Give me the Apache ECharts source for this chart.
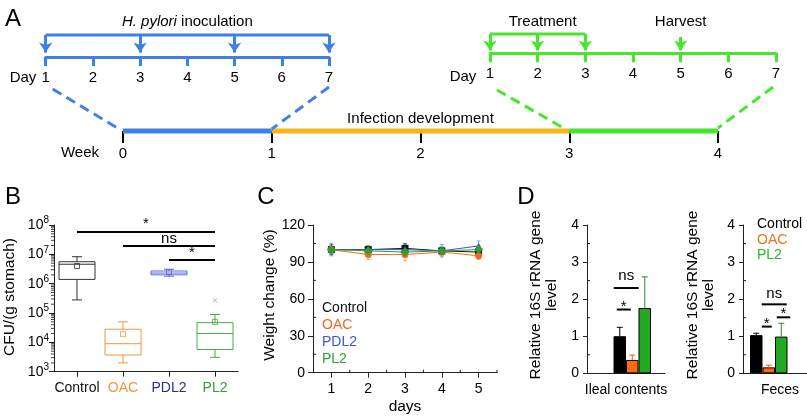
<!DOCTYPE html>
<html><head><meta charset="utf-8">
<script src="https://cdn.jsdelivr.net/npm/echarts@6/dist/echarts.min.js"></script>
<style>html,body{margin:0;padding:0;background:#fff}#c{width:807px;height:417px}</style>
</head><body><div id="c"></div>
<script>
// ---------------- data ----------------
// Panel A (timeline)
const dayTicks = [1, 2, 3, 4, 5, 6, 7];
const inoculationDays = [1, 3, 5, 7];
const treatmentDays = [1, 2, 3];
const harvestDays = [5];
const weekTicks = [0, 1, 2, 3, 4];
const phaseStart = [0, 1, 3];
const phaseEnd = [1, 3, 4];

// Panel B (box plot, CFU per g stomach)
const groupsB = ['Control', 'OAC', 'PDL2', 'PL2'];
const cfuMin = [2.8e5, 2.0e3, 1.8e6, 3.1e3];
const cfuQ1 = [1.4e6, 3.7e3, 2.0e6, 5.7e3];
const cfuMedian = [4.6e6, 9.0e3, 2.3e6, 2.0e4];
const cfuQ3 = [5.6e6, 2.8e4, 2.7e6, 4.7e4];
const cfuMax = [8.3e6, 5.0e4, 3.1e6, 8.9e4];
const cfuMean = [4.0e6, 1.9e4, 2.5e6, 5.0e4];
const cfuOutlierGroup = [3];
const cfuOutlierValue = [2.7e5];
const sigBFrom = [0, 1, 2];
const sigBTo = [3, 3, 3];
const sigBLevel = [5.9e7, 1.9e7, 6.4e6];
const sigBText = ['*', 'ns', '*'];
const logDecades = [3, 4, 5, 6, 7];
const logMultipliers = [2, 3, 4, 5, 6, 7, 8, 9];

// Panel C (weight change)
const daysC = [1, 2, 3, 4, 5];
const groupsC = ['Control', 'OAC', 'PDL2', 'PL2'];
const weightControl = [100, 100, 101, 99, 98];
const weightOAC = [100, 96, 96, 98, 95];
const weightPDL2 = [100, 100, 100, 99, 103];
const weightPL2 = [100, 99, 98, 99, 100];
const errControl = [4, 3, 4, 3, 3];
const errOAC = [3, 4, 5, 3, 3];
const errPDL2 = [5, 3, 4, 5, 4];
const errPL2 = [3, 3, 3, 3, 3];
const minorTicksCx = [1.5, 2.5, 3.5, 4.5, 5.5];
const minorTicksCy = [15, 45, 75, 105];

// Panel D (16S rRNA)
const groupsD = ['Control', 'OAC', 'PL2'];
const ilealMean = [1.00, 0.36, 1.76];
const ilealErr = [0.24, 0.13, 0.84];
const fecesMean = [1.03, 0.16, 0.99];
const fecesErr = [0.05, 0.06, 0.36];
const minorTicksD = [0.5, 1.5, 2.5, 3.5];

// ---------------- styles ----------------
const FONT = '"Liberation Sans", Arial, Helvetica, sans-serif';
const BLUE = '#3f80e4', GREEN = '#46e62c', ORANGE_T = '#f8b51a';
const catColorsB = ['#111', '#f0963c', '#2c2e8c', '#3c9a3c'];
const boxColorsB = ['#333', '#f0963c', '#5b6ad6', '#4aa84a'];
const colorsC = ['#111', '#f06a1e', '#3b55d9', '#2f9e2f'];
const symbolsC = ['rect', 'circle', 'triangle', 'diamond'];
const colorsD = ['#000', '#ff6a10', '#22aa22'];
const BW = 12.5;

const chart = echarts.init(document.getElementById('c'), null, {renderer: 'canvas'});

const noSplit = {show: false};
function hiddenY(g) { return {gridIndex: g, type: 'value', min: 0, max: 1, show: false}; }

const grids = [
  {left: 45.7, top: 35, width: 283.3, height: 22},
  {left: 490, top: 34, width: 286, height: 19.3},
  {left: 123, top: 100, width: 595, height: 31},
  {left: 54, top: 225, width: 184, height: 146.7},
  {left: 313, top: 225, width: 184, height: 147.7},
  {left: 587, top: 225, width: 78, height: 148.3},
  {left: 743, top: 225, width: 64, height: 148.3}
].map(g => Object.assign(g, {outerBoundsMode: 'none', containLabel: false}));

const dayAxis = (g, col) => ({
  gridIndex: g, type: 'value', min: 1, max: 7, interval: 1,
  axisLine: {show: true, lineStyle: {color: col, width: 3}},
  axisTick: {show: true, length: 9, lineStyle: {color: col, width: 3}},
  axisLabel: {color: '#000', fontSize: 15, fontFamily: FONT, margin: 13},
  splitLine: noSplit
});

const xAxes = [
  dayAxis(0, BLUE),
  dayAxis(1, GREEN),
  {gridIndex: 2, type: 'value', min: 0, max: 4, interval: 1,
   axisLine: {show: false},
   axisTick: {show: true, length: 12, lineStyle: {color: '#000', width: 2}},
   axisLabel: {color: '#000', fontSize: 15, fontFamily: FONT, margin: 15},
   splitLine: noSplit},
  {gridIndex: 3, type: 'category', data: groupsB,
   axisLine: {show: true, lineStyle: {color: '#222', width: 1}},
   axisTick: {show: true, alignWithLabel: true, interval: 0, length: 5, lineStyle: {color: '#222'}},
   axisLabel: {fontSize: 14, fontFamily: FONT, margin: 9, interval: 0,
     color: (v) => catColorsB[groupsB.indexOf(v)]}},
  {gridIndex: 4, type: 'value', min: 0.5, max: 5.5,
   axisLine: {show: true, lineStyle: {color: '#222'}},
   axisTick: {show: true, length: 5, customValues: daysC, lineStyle: {color: '#222'}},
   axisLabel: {fontSize: 14, fontFamily: FONT, color: '#000', margin: 9, customValues: daysC},
   splitLine: noSplit},
  {gridIndex: 5, type: 'category', data: ['Ileal contents'],
   axisLine: {show: true, lineStyle: {color: '#222'}}, axisTick: {show: false},
   axisLabel: {fontSize: 14, fontFamily: FONT, color: '#000', margin: 10}},
  {gridIndex: 6, type: 'category', data: ['Feces'],
   axisLine: {show: true, lineStyle: {color: '#222'}}, axisTick: {show: false},
   axisLabel: {fontSize: 14, fontFamily: FONT, color: '#000', margin: 10, padding: [0, 0, 0, 10]}}
];

const dAxis = (g) => ({gridIndex: g, type: 'value', min: 0, max: 4, interval: 1,
  axisLine: {show: true, lineStyle: {color: '#222'}},
  axisTick: {show: true, length: 4, lineStyle: {color: '#222'}},
  axisLabel: {fontSize: 14, fontFamily: FONT, color: '#000', margin: 8},
  splitLine: noSplit});

const yAxes = [
  hiddenY(0), hiddenY(1), hiddenY(2),
  {gridIndex: 3, type: 'log', logBase: 10, min: 1e3, max: 1e8,
   axisLine: {show: true, lineStyle: {color: '#222'}},
   axisTick: {show: true, length: 5, lineStyle: {color: '#222'}},
   axisLabel: {margin: 5, color: '#000', fontFamily: FONT,
     formatter: v => '10{s|' + Math.round(Math.log10(v)) + '}',
     rich: {s: {fontSize: 10, fontFamily: FONT, color: '#000', padding: [0, 0, 9, 0]}},
     fontSize: 14},
   splitLine: noSplit},
  {gridIndex: 4, type: 'value', min: 0, max: 120, interval: 30,
   axisLine: {show: true, lineStyle: {color: '#222'}},
   axisTick: {show: true, length: 5, lineStyle: {color: '#222'}},
   axisLabel: {fontSize: 14, fontFamily: FONT, color: '#000', margin: 8},
   splitLine: noSplit},
  dAxis(5), dAxis(6)
];
// axis indices: x: 0 A-blue, 1 A-green, 2 weeks, 3 B, 4 C, 5 D1, 6 D2
//               y: 0,1,2 A, 3 B, 4 C, 5 D1, 6 D2

// ---------- series ----------
const series = [];
// minor tick helper (ticks derived from axis scale via api.coord)
function minorTicks(xi, yi, values, dim, dir, len, col) {
  series.push({type: 'custom', xAxisIndex: xi, yAxisIndex: yi, silent: true, z: 10,
    data: values.map(v => [v]), encode: dim === 'y' ? {y: 0} : {x: 0},
    renderItem: (p, api) => {
      const cs = p.coordSys;
      const v = api.value(0);
      if (dim === 'y') {
        const y = api.coord([0, v])[1];
        const x0 = cs.x;
        return {type: 'line', shape: {x1: x0, y1: y, x2: x0 + dir * len, y2: y}, style: {stroke: col, lineWidth: 1}};
      } else {
        const x = api.coord([v, 0])[0];
        const y0 = cs.y + cs.height;
        return {type: 'line', shape: {x1: x, y1: y0, x2: x, y2: y0 + dir * len}, style: {stroke: col, lineWidth: 1}};
      }
    }});
}

// Panel A
function bracketSeries(xi, days, col) {
  series.push({type: 'line', xAxisIndex: xi, yAxisIndex: xi, clip: false, silent: true,
    data: [[days[0], 1], [days[days.length - 1], 1]], symbol: 'none',
    lineStyle: {color: col, width: 3}});
}
function arrowSeries(xi, days, y0, y1, col) {
  series.push({type: 'lines', coordinateSystem: 'cartesian2d', xAxisIndex: xi, yAxisIndex: xi, clip: false, silent: true,
    data: days.map(d => ({coords: [[d, y0], [d, y1]]})),
    symbol: ['none', 'arrow'], symbolSize: 10,
    lineStyle: {color: col, width: 3, opacity: 1, curveness: 0}});
}
bracketSeries(0, inoculationDays, BLUE);
arrowSeries(0, inoculationDays, 1, 0.2, BLUE);
bracketSeries(1, treatmentDays, GREEN);
arrowSeries(1, treatmentDays, 1, 0.15, GREEN);
arrowSeries(1, harvestDays, 0.84, 0.15, GREEN);
const phaseColors = [BLUE, ORANGE_T, GREEN];
phaseStart.forEach((s, i) => {
  series.push({type: 'line', xAxisIndex: 2, yAxisIndex: 2, clip: false, silent: true,
    data: [[s, 0], [phaseEnd[i], 0]], symbol: 'none',
    lineStyle: {color: phaseColors[i], width: 5}});
});

// Panel B boxes
series.push({
  type: 'custom', xAxisIndex: 3, yAxisIndex: 3, silent: true,
  data: groupsB.map((g, i) => [i, cfuMin[i], cfuQ1[i], cfuMedian[i], cfuQ3[i], cfuMax[i], cfuMean[i]]),
  encode: {x: 0, y: [1, 2, 3, 4, 5, 6]},
  renderItem: (p, api) => {
    const i = api.value(0);
    const c = boxColorsB[i];
    const pt = k => api.coord([i, api.value(k)]);
    const mn = pt(1), q1 = pt(2), md = pt(3), q3 = pt(4), mx = pt(5), me = pt(6);
    const x = mn[0], hw = 18, cap = 5;
    const st = {stroke: c, lineWidth: 1, fill: null};
    const L = (x1, y1, x2, y2) => ({type: 'line', shape: {x1, y1, x2, y2}, style: st});
    return {type: 'group', children: [
      {type: 'rect', shape: {x: x - hw, y: q3[1], width: 2 * hw, height: q1[1] - q3[1]}, style: {stroke: c, lineWidth: 1, fill: 'rgba(0,0,0,0)'}},
      L(x - hw, md[1], x + hw, md[1]),
      L(x, q3[1], x, mx[1]), L(x - cap, mx[1], x + cap, mx[1]),
      L(x, q1[1], x, mn[1]), L(x - cap, mn[1], x + cap, mn[1]),
      {type: 'rect', shape: {x: x - 2.5, y: me[1] - 2.5, width: 5, height: 5}, style: {stroke: c, lineWidth: 0.8, fill: 'rgba(0,0,0,0)'}}
    ]};
  },
  markLine: {
    silent: true, symbol: 'none', animation: false,
    lineStyle: {color: '#000', width: 2, type: 'solid'},
    label: {show: true, position: 'middle', color: '#000', fontSize: 15, fontFamily: FONT, distance: 0},
    data: sigBFrom.map((f, k) => [
      {coord: [f, sigBLevel[k]], label: {formatter: sigBText[k]}},
      {coord: [sigBTo[k], sigBLevel[k]]}
    ])
  }
});
// Panel B outliers
series.push({
  type: 'custom', xAxisIndex: 3, yAxisIndex: 3, silent: true,
  data: cfuOutlierGroup.map((g, i) => [g, cfuOutlierValue[i]]),
  encode: {x: 0, y: 1},
  renderItem: (p, api) => {
    const q = api.coord([api.value(0), api.value(1)]);
    const s = {stroke: '#aaa', lineWidth: 1};
    return {type: 'group', children: [
      {type: 'line', shape: {x1: q[0] - 2, y1: q[1] - 2, x2: q[0] + 2, y2: q[1] + 2}, style: s},
      {type: 'line', shape: {x1: q[0] - 2, y1: q[1] + 2, x2: q[0] + 2, y2: q[1] - 2}, style: s}
    ]};
  }
});
const minorLogValues = [];
logDecades.forEach(n => logMultipliers.forEach(k => minorLogValues.push(k * Math.pow(10, n))));
minorTicks(3, 3, minorLogValues, 'y', -1, 3, '#444');

// Panel C
const weightsC = [weightControl, weightOAC, weightPDL2, weightPL2];
const errsC = [errControl, errOAC, errPDL2, errPL2];
const errData = [];
weightsC.forEach((arr, g) => daysC.forEach((d, i) => errData.push([d, arr[i], errsC[g][i], g])));
series.push({
  type: 'custom', xAxisIndex: 4, yAxisIndex: 4, silent: true, z: 1,
  data: errData, encode: {x: 0, y: 1},
  renderItem: (p, api) => {
    const x = api.value(0), m = api.value(1), e = api.value(2), g = api.value(3);
    const t = api.coord([x, m + e]), b = api.coord([x, m - e]);
    const s = {stroke: colorsC[g], lineWidth: 1, opacity: 0.55};
    return {type: 'group', children: [
      {type: 'line', shape: {x1: t[0], y1: t[1], x2: b[0], y2: b[1]}, style: s},
      {type: 'line', shape: {x1: t[0] - 2, y1: t[1], x2: t[0] + 2, y2: t[1]}, style: s},
      {type: 'line', shape: {x1: b[0] - 2, y1: b[1], x2: b[0] + 2, y2: b[1]}, style: s}
    ]};
  }
});
weightsC.forEach((arr, g) => {
  series.push({type: 'line', name: groupsC[g], xAxisIndex: 4, yAxisIndex: 4, z: 3 + g,
    data: daysC.map((d, i) => [d, arr[i]]),
    symbol: symbolsC[g], symbolSize: g === 3 ? 9 : 7, showSymbol: true,
    itemStyle: {color: colorsC[g]}, lineStyle: {color: colorsC[g], width: 1}});
});
minorTicks(4, 4, minorTicksCy, 'y', 1, 3, '#222');
minorTicks(4, 4, minorTicksCx, 'x', -1, 3, '#222');

// Panel D
function dPanel(xi, yi, means, errs, spacerFirst) {
  const spacer = {type: 'bar', xAxisIndex: xi, yAxisIndex: yi, data: ['-'], barWidth: BW, barGap: '0%', silent: true};
  if (spacerFirst) series.push(spacer);
  means.forEach((m, i) => {
    series.push({type: 'bar', name: groupsD[i], xAxisIndex: xi, yAxisIndex: yi, data: [m],
      barWidth: BW, barGap: '0%', silent: true,
      itemStyle: {color: colorsD[i], borderColor: '#000', borderWidth: 1}});
  });
  if (!spacerFirst) series.push(spacer);
  const off = spacerFirst ? 1 : 0;
  series.push({type: 'custom', xAxisIndex: xi, yAxisIndex: yi, silent: true, z: 5,
    data: means.map((m, i) => [0, m, errs[i], i]), encode: {x: 0, y: 1},
    renderItem: (p, api) => {
      const m = api.value(1), e = api.value(2), i = api.value(3);
      const b = api.coord([0, m]), t = api.coord([0, m + e]);
      const x = b[0] + (i + off - 1.5) * BW;
      const s = {stroke: i === 2 ? '#2a8a2a' : (i === 1 ? '#e06010' : '#000'), lineWidth: 1};
      return {type: 'group', children: [
        {type: 'line', shape: {x1: x, y1: b[1], x2: x, y2: t[1]}, style: s},
        {type: 'line', shape: {x1: x - 3, y1: t[1], x2: x + 3, y2: t[1]}, style: s}
      ]};
    }});
  minorTicks(xi, yi, minorTicksD, 'y', 1, 3, '#222');
}
dPanel(5, 5, ilealMean, ilealErr, true);
dPanel(6, 6, fecesMean, fecesErr, false);

chart.setOption({
  animation: false,
  backgroundColor: '#fff',
  textStyle: {fontFamily: FONT},
  grid: grids, xAxis: xAxes, yAxis: yAxes, series: series
});

// ---------- annotations (anchored to axes) ----------
function T(x, y, text, o) {
  o = o || {};
  return {type: 'text', x: x, y: y, rotation: o.rot || 0, silent: true, z: 100,
    style: {text: text, fill: o.color || '#000', fontSize: o.size || 14, fontFamily: FONT,
      fontStyle: o.italic ? 'italic' : 'normal',
      align: o.align || 'center', verticalAlign: o.va || 'middle',
      textAlign: o.align || 'center', textVerticalAlign: o.va || 'middle',
      lineHeight: o.lh, rich: o.rich}};
}
function Ln(x1, y1, x2, y2, col, w, dash) {
  return {type: 'line', silent: true, z: 100, shape: {x1, y1, x2, y2},
    style: {stroke: col, lineWidth: w, lineDash: dash || null}};
}
const px = (xi, yi, v) => chart.convertToPixel({xAxisIndex: xi, yAxisIndex: yi}, v);

const g = [];
// panel letters
g.push(T(13, 19, 'A', {size: 24}));
g.push(T(13, 197, 'B', {size: 24}));
g.push(T(266, 197, 'C', {size: 24}));
g.push(T(526, 197, 'D', {size: 24}));

// Panel A texts
const b1 = px(0, 0, [1, 0]), b7 = px(0, 0, [7, 0]);
const g1 = px(1, 1, [1, 0]), g7 = px(1, 1, [7, 0]);
const w0 = px(2, 2, [0, 0]), w1 = px(2, 2, [1, 0]), w3 = px(2, 2, [3, 0]), w4 = px(2, 2, [4, 0]);
const w2 = px(2, 2, [2, 0]);
g.push(T((b1[0] + b7[0]) / 2, 22, '{i|H. pylori} inoculation', {size: 15,
  rich: {i: {fontStyle: 'italic', fontSize: 15, fontFamily: FONT, fill: '#000', color: '#000'}}}));
g.push(T(23, 78, 'Day', {size: 15}));
g.push(T(463, 77, 'Day', {size: 15}));
g.push(T(px(1, 1, [2, 0])[0] + 5, 22, 'Treatment', {size: 15}));
g.push(T(px(1, 1, [5, 0])[0], 22, 'Harvest', {size: 15}));
g.push(T(80, 153, 'Week', {size: 15}));
g.push(T(w2[0], 119, 'Infection development', {size: 15}));
// dashed connectors
const dash = [10, 6];
g.push(Ln(b1[0] + 7, 89, w0[0] - 4, w0[1] - 2, BLUE, 3, dash));
g.push(Ln(b7[0], 87, w1[0], w1[1] - 2, BLUE, 3, dash));
g.push(Ln(g1[0] + 7, 90, w3[0] - 4, w3[1] - 2, GREEN, 3, dash));
g.push(Ln(g7[0] - 3, 87, w4[0], w4[1] - 3, GREEN, 3, dash));

// Panel B/C titles
g.push(T(10, 297, 'CFU/(g stomach)', {size: 15.5, rot: Math.PI / 2}));
g.push(T(270, 295, 'Weight change (%)', {size: 15.5, rot: Math.PI / 2}));
g.push(T(px(4, 4, [3, 0])[0], 407, 'days', {size: 15.5}));
// Panel C legend
groupsC.forEach((name, i) => g.push(T(322, 308 + i * 17, name, {align: 'left', color: colorsC[i], size: 14})));

// Panel D titles
g.push(T(544, 295, 'Relative 16S rRNA gene\nlevel', {size: 15.5, rot: Math.PI / 2, lh: 16}));
g.push(T(701, 295, 'Relative 16S rRNA gene\nlevel', {size: 15.5, rot: Math.PI / 2, lh: 16}));
// Panel D2 legend
const legD = ['#000', '#f07020', '#2db32d'];
groupsD.forEach((name, i) => g.push(T(757, 224 + i * 15.7, name, {align: 'left', color: legD[i], size: 14})));

// Panel D significance
function barC(xi, yi, slot, v) { const p = px(xi, yi, [0, v]); return [p[0] + (slot - 1.5) * BW, p[1]]; }
function sig(xi, yi, s1, d1, s2, d2, v, txt, ty) {
  const a = barC(xi, yi, s1, v), b = barC(xi, yi, s2, v);
  g.push(Ln(a[0] + d1, a[1], b[0] + d2, a[1], '#000', 2));
  g.push(T((a[0] + d1 + b[0] + d2) / 2, a[1] + ty, txt, {size: 15}));
}
sig(5, 5, 1, -6, 3, -6, 2.3, 'ns', -12);
sig(5, 5, 1, -3, 2, -1.5, 1.72, '*', -3);
sig(6, 6, 0, 5.5, 2, 5.5, 1.86, 'ns', -10);
sig(6, 6, 0, 5.5, 1, 3, 1.26, '*', -3);
sig(6, 6, 1, 8, 2, 9, 1.51, '*', -3);

chart.setOption({graphic: {elements: g}});
</script>
</body></html>
